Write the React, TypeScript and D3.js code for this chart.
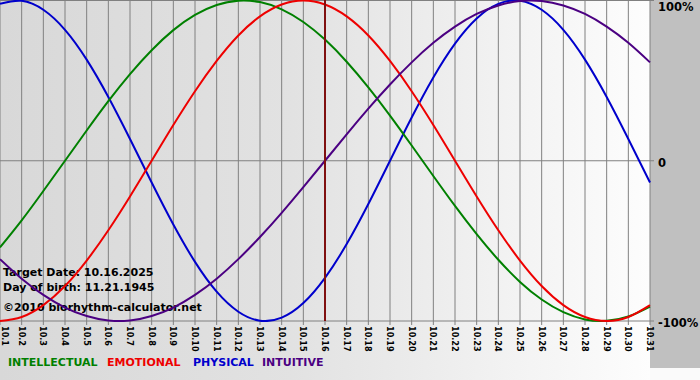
import React from "react";
import * as d3 from "d3";

const dayLabels = [
  "10.1", "10.2", "10.3", "10.4", "10.5", "10.6", "10.7", "10.8", "10.9", "10.10",
  "10.11", "10.12", "10.13", "10.14", "10.15", "10.16", "10.17", "10.18", "10.19", "10.20",
  "10.21", "10.22", "10.23", "10.24", "10.25", "10.26", "10.27", "10.28", "10.29", "10.30", "10.31",
];

const physical = [
  0.979, 0.998, 0.942, 0.817, 0.631, 0.398, 0.136, -0.136, -0.398, -0.631,
  -0.817, -0.942, -0.998, -0.979, -0.888, -0.731, -0.52, -0.27, 0, 0.27,
  0.52, 0.731, 0.888, 0.979, 0.998, 0.942, 0.817, 0.631, 0.398, 0.136, -0.136,
];
const emotional = [
  -1, -0.975, -0.901, -0.782, -0.623, -0.434, -0.223, 0, 0.223, 0.434,
  0.623, 0.782, 0.901, 0.975, 1, 0.975, 0.901, 0.782, 0.623, 0.434,
  0.223, 0, -0.223, -0.434, -0.623, -0.782, -0.901, -0.975, -1, -0.975, -0.901,
];
const intellectual = [
  -0.541, -0.372, -0.189, 0, 0.189, 0.372, 0.541, 0.69, 0.815, 0.91,
  0.972, 0.999, 0.99, 0.945, 0.866, 0.756, 0.618, 0.458, 0.282, 0.095,
  -0.095, -0.282, -0.458, -0.618, -0.756, -0.866, -0.945, -0.99, -0.999, -0.972, -0.91,
];
const intuitive = [
  -0.614, -0.736, -0.837, -0.916, -0.969, -0.997, -0.997, -0.969, -0.916, -0.837,
  -0.736, -0.614, -0.476, -0.325, -0.165, 0, 0.165, 0.325, 0.476, 0.614,
  0.736, 0.837, 0.916, 0.969, 0.997, 0.997, 0.969, 0.916, 0.837, 0.736, 0.614,
];

const targetIndex = 15;
const yTicks = [1, 0, -1];
const yTickLabels = ["100%", "0", "-100%"];
const infoLines = ["Target Date: 10.16.2025", "Day of birth: 11.21.1945", "©2010 biorhythm-calculator.net"];

const seriesList = [
  { name: "INTELLECTUAL", values: intellectual, color: "#008000", legendX: 8 },
  { name: "EMOTIONAL", values: emotional, color: "#ee0000", legendX: 107 },
  { name: "PHYSICAL", values: physical, color: "#0000cc", legendX: 193 },
  { name: "INTUITIVE", values: intuitive, color: "#4b0082", legendX: 262 },
];
const drawOrder = [2, 0, 1, 3];

export default function App() {
  const W = 700, H = 380;
  const plotW = 650, plotH = 321;
  const x = d3.scaleLinear().domain([0, dayLabels.length - 1]).range([0, plotW]);
  const y = d3.scaleLinear().domain([-1, 1]).range([plotH, 0.5]);
  const line = d3
    .line<number>()
    .x((_, i) => x(i))
    .y((v) => y(v))
    .curve(d3.curveNatural);
  const font = "'DejaVu Sans', Verdana, sans-serif";

  return (
    <svg width={W} height={H} style={{ position: "absolute", left: 0, top: 0, display: "block" }}>
      <defs>
        <linearGradient id="bg" x1="0" x2="1" y1="0" y2="0">
          <stop offset="0" stopColor="#d8d8d8" />
          <stop offset="0.45" stopColor="#e2e2e2" />
          <stop offset="1" stopColor="#fdfdfd" />
        </linearGradient>
        <clipPath id="plotClip">
          <rect x={0} y={0} width={plotW + 1} height={plotH + 1} />
        </clipPath>
      </defs>
      <rect x={0} y={0} width={W} height={H} fill="#fafafa" />
      <rect x={0} y={0} width={plotW} height={H} fill="url(#bg)" />
      <rect x={plotW} y={0} width={W - plotW} height={368} fill="#c0c0c0" />

      {/* grid */}
      {dayLabels.map((d, i) => (
        <line key={"vg" + d} x1={x(i)} x2={x(i)} y1={0} y2={plotH + 4} stroke="#808080" strokeWidth={1} />
      ))}
      {yTicks.map((t) => (
        <line key={"hg" + t} x1={0} x2={plotW + 4} y1={y(t)} y2={y(t)} stroke="#808080" strokeWidth={1} />
      ))}

      {/* info text */}
      {infoLines.map((s, i) => (
        <text key={s} x={3} y={[276, 291, 311][i]} fontFamily={font} fontWeight="bold" fontSize={11} fill="#000">
          {s}
        </text>
      ))}

      {/* curves */}
      <g clipPath="url(#plotClip)">
        {drawOrder.map((k) => (
          <path key={seriesList[k].name} d={line(seriesList[k].values) || ""} fill="none" stroke={seriesList[k].color} strokeWidth={2} />
        ))}
      </g>

      {/* target marker */}
      <line x1={x(targetIndex)} x2={x(targetIndex)} y1={0} y2={plotH} stroke="#801010" strokeWidth={2} />

      {/* x tick labels */}
      {dayLabels.map((d, i) => (
        <text
          key={"xl" + d}
          transform={`translate(${Math.max(x(i), 5)},${plotH + 5}) rotate(90)`}
          dy="0.35em"
          fontFamily="'DejaVu Sans Condensed', 'DejaVu Sans', sans-serif"
          fontWeight="bold"
          fontSize={9}
          fill="#000"
        >
          {d}
        </text>
      ))}

      {/* y labels */}
      {yTicks.map((t, i) => (
        <text
          key={"yl" + t}
          x={658}
          y={i === 0 ? 11 : y(t) + 6}
          fontFamily={font}
          fontWeight="bold"
          fontSize={11.5}
          fill="#000"
        >
          {yTickLabels[i]}
        </text>
      ))}

      {/* legend */}
      {seriesList.map((s) => (
        <text key={"lg" + s.name} x={s.legendX} y={366} fontFamily={font} fontWeight="bold" fontSize={11} fill={s.color}>
          {s.name}
        </text>
      ))}
    </svg>
  );
}
